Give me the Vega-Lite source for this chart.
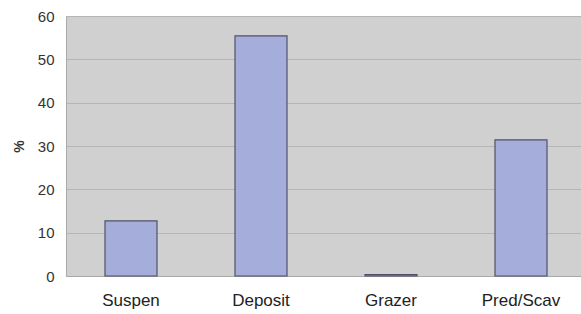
{
  "$schema": "https://vega.github.io/schema/vega-lite/v6.json",
  "autosize": "none",
  "width": 520,
  "height": 260,
  "padding": {"left": 66, "top": 16, "right": 0, "bottom": 38},
  "background": "white",
  "config": {
    "view": {"fill": "#d0d0d0", "stroke": null},
    "font": "Liberation Sans"
  },
  "data": {
    "values": [
      {"group": "Suspen", "pct": 12.7},
      {"group": "Deposit", "pct": 55.4},
      {"group": "Grazer", "pct": 0.3},
      {"group": "Pred/Scav", "pct": 31.4}
    ]
  },
  "mark": {"type": "bar", "fill": "#a5aedb", "stroke": "#50506a", "strokeWidth": 1.2},
  "encoding": {
    "x": {
      "field": "group",
      "type": "nominal",
      "sort": null,
      "scale": {"paddingInner": 0.6, "paddingOuter": 0.3},
      "axis": {
        "title": null,
        "labelAngle": 0,
        "labelFontSize": 17,
        "labelColor": "#222222",
        "labelPadding": 16,
        "ticks": false,
        "domainColor": "#aaaaaa"
      }
    },
    "y": {
      "field": "pct",
      "type": "quantitative",
      "scale": {"domain": [0, 60]},
      "axis": {
        "title": "%",
        "titleFontSize": 14,
        "titleFontWeight": "bold",
        "titleColor": "#333333",
        "titlePadding": 11,
        "values": [0, 10, 20, 30, 40, 50, 60],
        "labelFontSize": 15,
        "labelColor": "#333333",
        "labelPadding": 12,
        "ticks": false,
        "gridColor": "#b5b5b5",
        "gridWidth": 1,
        "domainColor": "#aaaaaa"
      }
    }
  }
}
